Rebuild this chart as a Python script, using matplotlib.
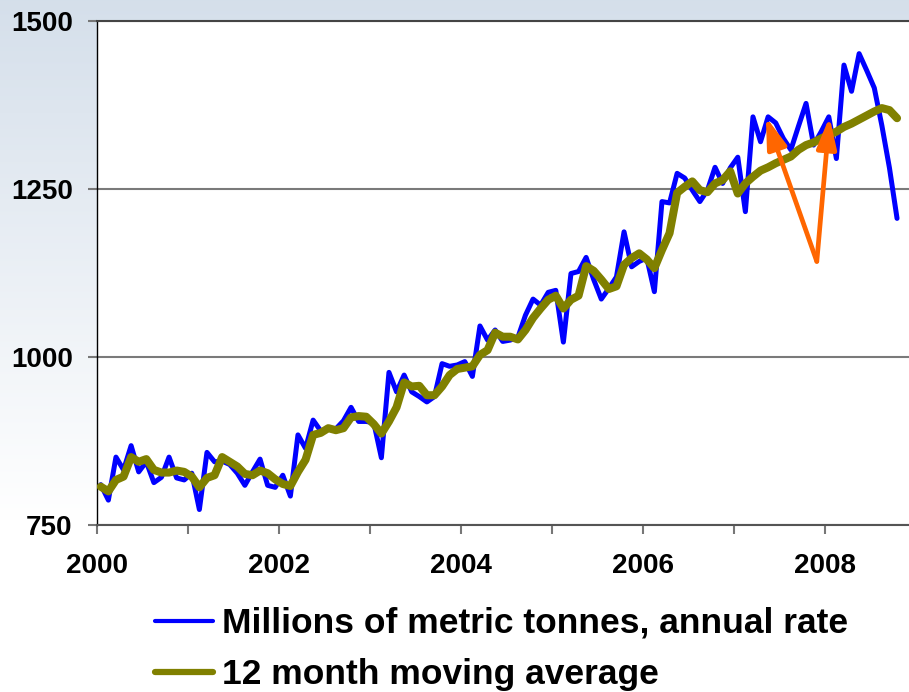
import matplotlib
matplotlib.use("Agg")
import matplotlib.pyplot as plt
from matplotlib.lines import Line2D
import numpy as np

plt.rcParams['font.family'] = ['Liberation Sans', 'DejaVu Sans']
plt.rcParams['font.weight'] = 'bold'

# monthly data, Jan 2000 .. Oct 2008
months = np.arange(106)
production = [810, 787, 851, 832, 868, 829, 844, 813, 821, 851, 820, 817,
              827, 773, 858, 844, 845, 840, 827, 809, 829, 848, 809, 806,
              824, 793, 884, 864, 906, 890, 892, 893, 905, 925, 904, 904,
              902, 850, 977, 948, 973, 948, 941, 933, 941, 990, 986, 988,
              993, 971, 1046, 1025, 1040, 1023, 1025, 1029, 1062, 1086, 1077, 1096,
              1099, 1022, 1124, 1127, 1148, 1115, 1086, 1102, 1119, 1186, 1134, 1142,
              1147, 1097, 1231, 1229, 1273, 1266, 1248, 1231, 1248, 1282, 1258, 1281,
              1297, 1216, 1357, 1320, 1357, 1348, 1325, 1308, 1343, 1377, 1315, 1335,
              1357, 1295, 1434, 1395, 1451, 1426, 1400, 1344, 1281, 1206]
moving_avg = [807, 800, 817, 822, 851, 844, 848, 832, 828, 828, 831, 829,
              822, 806, 820, 824, 851, 844, 837, 826, 824, 831, 827, 818,
              811, 808, 829, 847, 884, 887, 894, 891, 894, 910, 912, 911,
              900, 886, 904, 925, 962, 956, 957, 943, 943, 956, 973, 982,
              984, 986, 1003, 1010, 1036, 1030, 1030, 1026, 1040, 1058, 1072, 1085,
              1091, 1072, 1085, 1091, 1135, 1128, 1115, 1101, 1105, 1137, 1147, 1154,
              1145, 1132, 1159, 1184, 1244, 1253, 1261, 1248, 1245, 1258, 1263, 1276,
              1243, 1258, 1268, 1277, 1282, 1288, 1293, 1298, 1308, 1315, 1319, 1325,
              1330, 1335, 1342, 1347, 1353, 1359, 1365, 1370, 1367, 1355]
labels = ["Millions of metric tonnes, annual rate", "12 month moving average"]
year_ticks = list(range(2000, 2010))
year_labels = [str(y) if y % 2 == 0 else "" for y in year_ticks]
y_ticks = [750, 1000, 1250, 1500]

# orange arrows: common tail, two heads
arrow_tail = (2007.91, 1142)
arrow_heads = [(2007.35, 1357), (2008.05, 1357)]

x = 2000 + (months + 0.5) / 12.0

fig = plt.figure(figsize=(9.09, 6.92), dpi=100)

# light blue-grey background fading to white
bg = fig.add_axes([0, 0, 1, 1], zorder=-1)
h = 692
t = np.clip(np.arange(h) / 520.0, 0, 1)[:, None]
top = np.array([0.835, 0.875, 0.92])
grad = top[None, None, :] * (1 - t[:, :, None]) + 1.0 * t[:, :, None]
grad = np.repeat(grad, 4, axis=1)
bg.imshow(grad, aspect='auto', extent=[0, 1, 0, 1])
bg.axis('off')

ax = fig.add_axes([97 / 909, 167 / 692, 819 / 909, 504.3 / 692])
ax.set_facecolor('white')

ax.plot(x, production, color='#0000ff', lw=3.6, solid_joinstyle='round',
        solid_capstyle='round', zorder=3)
ax.plot(x, moving_avg, color='#808000', lw=5.8, solid_joinstyle='round',
        solid_capstyle='round', zorder=4)

for head in arrow_heads:
    ax.annotate('', xy=head, xytext=arrow_tail,
                arrowprops=dict(arrowstyle='-|>,head_length=19,head_width=6',
                                mutation_scale=1, color='#ff6600', lw=3.4,
                                shrinkA=0, shrinkB=0), zorder=5)

ax.set_xlim(2000, 2009)
ax.set_ylim(750, 1500)
ax.set_xticks(year_ticks)
ax.set_xticklabels(year_labels)
ax.set_yticks(y_ticks)

ax.grid(axis='y', color='#7a7a7a', lw=1.5, zorder=1)
ax.set_axisbelow(True)
ax.spines['right'].set_visible(False)
ax.spines['top'].set_color('#444444')
ax.spines['top'].set_linewidth(1.5)
ax.spines['left'].set_color('black')
ax.spines['left'].set_linewidth(1)
ax.spines['bottom'].set_color('#555555')
ax.spines['bottom'].set_linewidth(1.5)

ax.tick_params(axis='x', length=6.5, width=1.5, color='#777777', pad=14, labelsize=20)
ax.tick_params(axis='y', length=6.5, width=1.5, color='#777777', pad=11, labelsize=20)

# legend handles drawn a bit thinner than the plotted lines
handles = [Line2D([], [], color='#0000ff', lw=3, solid_capstyle='round'),
           Line2D([], [], color='#808000', lw=4.5, solid_capstyle='round')]
fig.legend(handles, labels, loc='upper left',
           bbox_to_anchor=(155 / 909, 1 - 607 / 692), frameon=False,
           prop={'weight': 'bold', 'size': 25.5}, handlelength=1.64,
           handletextpad=0.25, labelspacing=0.52, borderpad=0, borderaxespad=0)

fig.savefig("out.png", dpi=100)
